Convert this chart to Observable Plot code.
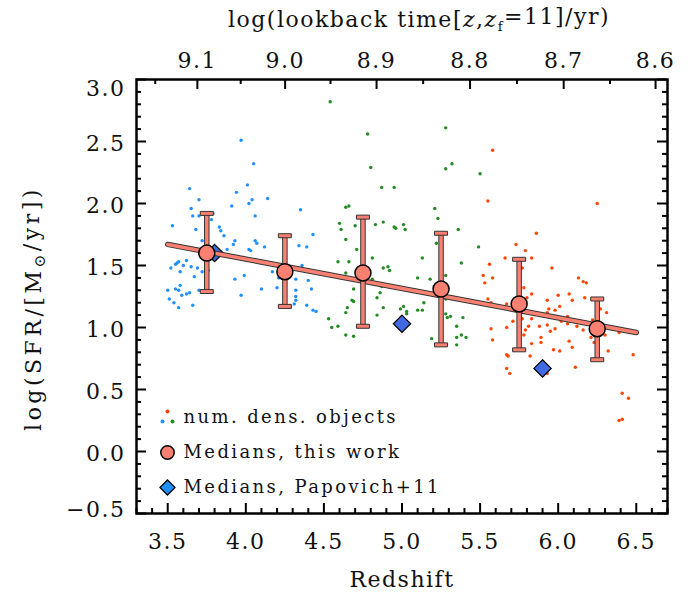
<!DOCTYPE html>
<html><head><meta charset="utf-8">
<script src="https://cdn.jsdelivr.net/npm/d3@7"></script>
<script src="https://cdn.jsdelivr.net/npm/@observablehq/plot@0.6"></script>
<style>
body{margin:0;background:#fff}
#chart svg{font-family:"DejaVu Serif",serif}
#chart svg text{letter-spacing:1.5px}
</style></head><body><div id="chart"></div>
<script>
// ---- data ----
const blueZ = [3.97,4.05,3.64,4.01,3.94,3.70,4.04,4.14,3.65,3.91,4.02,3.66,3.70,3.79,4.06,4.35,3.78,3.53,3.83,3.84,3.86,3.68,4.43,3.93,4.06,4.07,3.92,4.12,3.72,4.34,4.39,3.88,4.02,4.03,3.57,3.62,3.56,3.55,3.60,3.52,3.65,3.69,3.58,3.72,3.76,4.36,4.17,3.99,3.67,3.93,4.21,4.32,4.40,3.50,3.55,3.58,3.57,3.59,3.62,3.64,3.70,4.10,4.20,4.32,4.42,3.51,3.54,3.57,3.66,3.97,4.32,4.32,4.31,4.39,4.43,4.45];
const blueSFR = [2.51,2.32,2.12,2.15,2.09,2.03,2.03,2.04,1.96,1.98,2.00,1.90,1.90,1.92,1.90,1.95,1.87,1.82,1.81,1.78,1.74,1.79,1.75,1.70,1.70,1.68,1.67,1.65,1.70,1.66,1.65,1.63,1.63,1.62,1.53,1.54,1.52,1.51,1.50,1.48,1.49,1.48,1.45,1.45,1.46,1.50,1.45,1.42,1.41,1.39,1.40,1.39,1.38,1.30,1.31,1.34,1.30,1.26,1.27,1.28,1.30,1.31,1.32,1.30,1.31,1.23,1.20,1.16,1.18,1.26,1.25,1.22,1.19,1.18,1.14,1.13];
const greenZ = [4.54,4.78,5.28,5.32,5.28,5.50,4.80,4.87,4.95,4.64,4.66,5.21,5.23,4.60,4.61,4.70,4.83,4.88,4.95,4.96,5.01,5.02,5.36,4.64,5.22,5.49,4.71,5.13,4.81,4.59,4.66,5.38,4.88,4.91,4.92,4.64,5.10,5.18,5.28,4.81,4.69,4.87,4.86,4.84,4.68,4.69,5.14,5.28,4.65,4.64,4.88,4.99,5.01,5.03,5.03,5.10,5.13,4.84,5.28,5.29,5.31,5.39,4.53,4.55,4.59,5.35,4.64,4.69,5.19,5.35,5.38,5.41,5.35];
const greenSFR = [2.82,2.56,2.61,2.32,2.28,2.24,2.29,2.13,2.13,1.97,1.98,1.96,1.88,1.84,1.79,1.82,1.83,1.85,1.81,1.80,1.83,1.79,1.79,1.71,1.68,1.65,1.63,1.56,1.56,1.53,1.53,1.52,1.48,1.49,1.46,1.44,1.40,1.39,1.42,1.39,1.31,1.33,1.28,1.24,1.22,1.21,1.20,1.23,1.16,1.12,1.16,1.15,1.17,1.13,1.11,1.14,1.14,1.10,1.11,1.08,1.09,1.08,1.07,1.00,1.01,1.01,0.94,0.93,0.91,0.92,0.94,0.92,0.86];
const orangeZ = [5.58,5.55,6.25,5.86,5.73,5.79,5.66,5.83,5.56,5.96,5.52,5.58,5.53,6.13,6.16,6.18,5.78,6.00,6.07,5.83,5.80,6.17,5.55,5.57,5.67,5.93,6.09,6.01,5.94,5.98,5.93,6.27,6.31,5.71,5.77,5.83,6.02,6.06,6.06,6.12,6.16,6.22,5.67,5.81,5.88,5.93,5.98,5.95,5.57,5.79,5.78,6.39,5.58,5.89,5.83,5.89,6.07,6.21,6.23,6.30,6.09,5.97,6.01,6.32,5.67,5.68,5.82,6.48,6.11,5.67,5.69,5.93,6.41,6.45,6.39,6.41,5.77];
const orangeSFR = [2.43,2.02,2.00,1.76,1.67,1.62,1.56,1.56,1.51,1.48,1.42,1.40,1.36,1.40,1.37,1.36,1.32,1.26,1.27,1.27,1.24,1.24,1.23,1.20,1.19,1.22,1.22,1.17,1.15,1.14,1.12,1.15,1.12,1.05,1.07,1.07,1.05,1.09,1.03,1.01,0.98,1.06,1.00,1.01,1.01,1.02,0.99,0.97,0.99,0.98,0.94,0.96,0.90,0.92,0.87,0.88,0.89,0.92,0.88,0.94,0.84,0.82,0.81,0.81,0.78,0.77,0.77,0.78,0.68,0.67,0.63,0.63,0.47,0.43,0.25,0.26,1.48];

const medZ   = [3.75,4.25,4.75,5.25,5.75,6.25];
const medSFR = [1.60,1.45,1.44,1.31,1.19,0.99];
const medLo  = [1.29,1.17,1.01,0.86,0.82,0.74];
const medHi  = [1.92,1.74,1.89,1.76,1.55,1.23];

const papZ   = [3.80,5.00,5.90];
const papSFR = [1.60,1.03,0.67];

const fitZ   = [3.50,6.50];
const fitSFR = [1.67,0.96];

const xMajor = [3.5,4.0,4.5,5.0,5.5,6.0,6.5];
const xMinor = d3.range(33,68).map(d=>d/10).filter(d=>!xMajor.some(m=>Math.abs(m-d)<1e-6));
const yMajor = [-0.5,0.0,0.5,1.0,1.5,2.0,2.5,3.0];
const yMinor = d3.range(-5,31).map(d=>d/10).filter(d=>!yMajor.some(m=>Math.abs(m-d)<1e-6));
const topMajorLogT = [9.1,9.0,8.9,8.8,8.7,8.6];
const topMinorLogT = [9.15,9.05,8.95,8.85,8.75,8.65];
const legendLabels = ["num. dens. objects","Medians, this work","Medians, Papovich+11"];

// ---- cosmology for the top axis (H0=70, Om=0.3, OL=0.7, z_f=11) ----
const tH = 977.8/70, Om = 0.3, OL = 0.7, zf = 11;
const age = z => (2/3)*tH/Math.sqrt(OL)*Math.asinh(Math.sqrt(OL/Om)*Math.pow(1+z,-1.5));
const zFromLogT = lt => {
  const a = Math.pow(10, lt)/1e9 + age(zf);
  const s = Math.sinh(a*1.5*Math.sqrt(OL)/tH)/Math.sqrt(OL/Om);
  return Math.pow(s, -2/3) - 1;
};
const topMajor = topMajorLogT.map(lt => ({z: zFromLogT(lt), label: d3.format(".1f")(lt)}));
const topMinor = topMinorLogT.map(zFromLogT);

// ---- tables ----
const pts = (zs, vs, c) => zs.map((z,i)=>({z, v: vs[i], c}));
const scatter = [...pts(blueZ,blueSFR,"#1E90FF"), ...pts(greenZ,greenSFR,"#228B22"), ...pts(orangeZ,orangeSFR,"#FF4500")];
const med = medZ.map((z,i)=>({z, v: medSFR[i], lo: medLo[i], hi: medHi[i]}));
const pap = papZ.map((z,i)=>({z, v: papSFR[i]}));
const fit = fitZ.map((z,i)=>({z, v: fitSFR[i]}));

const W = 691, H = 596, mL = 136, mR = 24, mT = 79, mB = 83;
const iW = W - mL - mR, iH = H - mT - mB;
const salmon = "#FA8072", edge = "#333";
const cap = {draw(ctx){ ctx.rect(-6.5,-2,13,4); }};
const F = 22;
const TOP_TITLE = "log(lookback time[z,zf=11]/yr)";
const Y_TITLE = "log(SFR/[M\u2299/yr])";

const chart = Plot.plot({
  width: W, height: H,
  marginLeft: mL, marginRight: mR, marginTop: mT, marginBottom: mB,
  x: {domain: [3.3, 6.7], axis: null},
  y: {domain: [-0.5, 3.0], axis: null},
  marks: [
    Plot.dot(scatter, {x: "z", y: "v", r: 1.7, fill: "c", stroke: null}),
    Plot.dot(pap, {x: "z", y: "v", symbol: "diamond2", r: 7.8, fill: "#4169E1", stroke: "black", strokeWidth: 1.2}),
    Plot.line(fit, {x: "z", y: "v", stroke: edge, strokeWidth: 5.5}),
    Plot.line(fit, {x: "z", y: "v", stroke: salmon, strokeWidth: 3.5}),
    Plot.ruleX(med, {x: "z", y1: "lo", y2: "hi", stroke: edge, strokeWidth: 5.5}),
    Plot.ruleX(med, {x: "z", y1: "lo", y2: "hi", stroke: salmon, strokeWidth: 3.5}),
    Plot.dot(med, {x: "z", y: "hi", symbol: cap, fill: salmon, stroke: edge, strokeWidth: 1}),
    Plot.dot(med, {x: "z", y: "lo", symbol: cap, fill: salmon, stroke: edge, strokeWidth: 1}),
    Plot.dot(med, {x: "z", y: "v", r: 8, fill: salmon, stroke: "black", strokeWidth: 1.5}),
    // ticks (inward)
    Plot.tickX(xMajor, {x: d=>d, insetTop: iH-10, stroke: "black", strokeWidth: 2}),
    Plot.tickX(xMinor, {x: d=>d, insetTop: iH-5, stroke: "black", strokeWidth: 2}),
    Plot.tickX(topMajor, {x: "z", insetBottom: iH-10, stroke: "black", strokeWidth: 2}),
    Plot.tickX(topMinor, {x: d=>d, insetBottom: iH-5, stroke: "black", strokeWidth: 2}),
    Plot.tickY(yMajor, {y: d=>d, insetRight: iW-10, stroke: "black", strokeWidth: 2}),
    Plot.tickY(yMinor, {y: d=>d, insetRight: iW-5, stroke: "black", strokeWidth: 2}),
    Plot.tickY(yMajor, {y: d=>d, insetLeft: iW-10, stroke: "black", strokeWidth: 2}),
    Plot.tickY(yMinor, {y: d=>d, insetLeft: iW-5, stroke: "black", strokeWidth: 2}),
    Plot.frame({stroke: "black", strokeWidth: 2.5}),
    // tick labels
    Plot.axisX(xMajor, {anchor: "bottom", tickSize: 0, tickPadding: 20, tickFormat: d3.format(".1f"), label: null, fontSize: F, fill: "#111"}),
    Plot.axisY(yMajor.filter(d=>d>-0.5 && d<3.0), {anchor: "left", tickSize: 0, tickPadding: 11, dy: 2, tickFormat: d3.format(".1f"), label: null, fontSize: F, fill: "#111"}),
    Plot.axisY([3.0], {anchor: "left", tickSize: 0, tickPadding: 11, dy: 9, tickFormat: d3.format(".1f"), label: null, fontSize: F, fill: "#111"}),
    Plot.axisY([-0.5], {anchor: "left", tickSize: 0, tickPadding: 11, dy: -4, tickFormat: d=>d3.format(".1f")(d).replace("-","\u2212"), label: null, fontSize: F, fill: "#111"}),
    Plot.text(topMajor, {x: "z", frameAnchor: "top", text: "label", lineAnchor: "bottom", dy: -12, fontSize: F, fill: "#111"}),
    // axis titles
    Plot.text(["Redshift"], {frameAnchor: "bottom", dy: 66, lineAnchor: "middle", fontSize: F, fill: "#111"}),
    Plot.text([TOP_TITLE], {frameAnchor: "top", dx: 17, dy: -60, lineAnchor: "middle", fontSize: F, fill: "#111"}),
    Plot.text([Y_TITLE], {frameAnchor: "left", dx: -103, dy: 12, rotate: -90, textAnchor: "middle", lineAnchor: "middle", fontSize: F, fill: "#111"}),
    // legend
    Plot.dot([0], {frameAnchor: "bottom-left", dx: 31, dy: -102, r: 2, fill: "#FF4500"}),
    Plot.dot([0], {frameAnchor: "bottom-left", dx: 26, dy: -92, r: 2, fill: "#1E90FF"}),
    Plot.dot([0], {frameAnchor: "bottom-left", dx: 36, dy: -92, r: 2, fill: "#228B22"}),
    Plot.dot([0], {frameAnchor: "bottom-left", dx: 31, dy: -61, r: 6.7, fill: salmon, stroke: "black", strokeWidth: 1.5}),
    Plot.dot([0], {frameAnchor: "bottom-left", dx: 31, dy: -26, symbol: "diamond2", r: 6.8, fill: "#1E90FF", stroke: "black", strokeWidth: 1.2}),
    Plot.text([legendLabels[0]], {frameAnchor: "bottom-left", dx: 47, dy: -96, textAnchor: "start", lineAnchor: "middle", fontSize: 18, fill: "#111"}),
    Plot.text([legendLabels[1]], {frameAnchor: "bottom-left", dx: 47, dy: -61, textAnchor: "start", lineAnchor: "middle", fontSize: 18, fill: "#111"}),
    Plot.text([legendLabels[2]], {frameAnchor: "bottom-left", dx: 47, dy: -26, textAnchor: "start", lineAnchor: "middle", fontSize: 18, fill: "#111"})
  ]
});
document.getElementById("chart").appendChild(chart);

// rich text for titles (italic z, subscripts) and legend spacing
const svg = d3.select(chart);
const byText = s => svg.selectAll("text").filter(function(){ return this.textContent === s; });
byText(TOP_TITLE).each(function(){
  const t = d3.select(this); t.text(null);
  t.append("tspan").text("log(lookback time[");
  t.append("tspan").attr("font-style","italic").text("z");
  t.append("tspan").text(",");
  t.append("tspan").attr("font-style","italic").text("z");
  t.append("tspan").attr("font-size","0.6em").attr("dy","0.3em").text("f");
  t.append("tspan").attr("dy","-0.3em").text("=11]/yr)");
});
byText(Y_TITLE).each(function(){
  const t = d3.select(this); t.text(null).style("letter-spacing","3.5px");
  t.append("tspan").text("log(SFR/[M");
  t.append("tspan").attr("font-size","0.7em").attr("dy","0.3em").text("\u2299");
  t.append("tspan").attr("dy","-0.3em").text("/yr])");
});
legendLabels.forEach(s => byText(s).style("letter-spacing","2.4px"));
</script></body></html>
